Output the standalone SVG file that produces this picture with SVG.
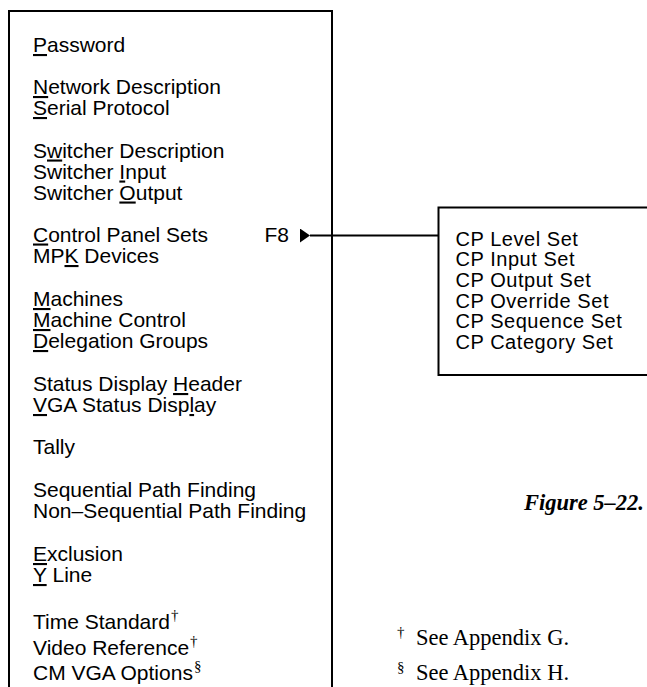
<svg xmlns="http://www.w3.org/2000/svg" width="647" height="687" viewBox="0 0 647 687">
<style>
.box{fill:none;stroke:#000;stroke-width:2}
.t{font-family:"Liberation Sans",Arial,sans-serif;font-size:21px;fill:#000}
.c{font-family:"Liberation Sans",Arial,sans-serif;font-size:20px;letter-spacing:0.55px;fill:#000}
.u{text-decoration:underline}
.sup{font-family:"Liberation Serif","Times New Roman",serif;font-size:15px}
.cap{font-family:"Liberation Serif","Times New Roman",serif;font-size:22.5px;font-weight:bold;font-style:italic;fill:#000}
.fn{font-family:"Liberation Serif","Times New Roman",serif;font-size:22.5px;fill:#000}
.fs{font-family:"Liberation Serif","Times New Roman",serif;font-size:15px;fill:#000}
.conn{stroke:#000;stroke-width:2;fill:none}
</style>
<defs>
<marker id="tri" markerUnits="userSpaceOnUse" markerWidth="10" markerHeight="14" refX="10" refY="7" orient="auto" viewBox="0 0 10 14">
<path d="M0,0 L10,7 L0,14 Z" fill="#000"/>
</marker>
</defs>
<rect width="647" height="687" fill="#fff"/>
<g id="main-menu">
<path class="box" d="M9,700 V11 H332 V700"/>
<text class="t" x="33" y="52"><tspan class="u">P</tspan>assword</text>
<text class="t" x="33" y="94"><tspan class="u">N</tspan>etwork Description</text>
<text class="t" x="33" y="115"><tspan class="u">S</tspan>erial Protocol</text>
<text class="t" x="33" y="157.5">S<tspan class="u">w</tspan>itcher Description</text>
<text class="t" x="33" y="178.5">Switcher <tspan class="u">I</tspan>nput</text>
<text class="t" x="33" y="199.5">Switcher <tspan class="u">O</tspan>utput</text>
<text class="t" x="33" y="241.5"><tspan class="u">C</tspan>ontrol Panel Sets</text>
<text class="t" x="289" y="241.5" text-anchor="end">F8</text>
<text class="t" x="33" y="263">MP<tspan class="u">K</tspan> Devices</text>
<text class="t" x="33" y="306"><tspan class="u">M</tspan>achines</text>
<text class="t" x="33" y="327"><tspan class="u">M</tspan>achine Control</text>
<text class="t" x="33" y="348"><tspan class="u">D</tspan>elegation Groups</text>
<text class="t" x="33" y="391">Status Display <tspan class="u">H</tspan>eader</text>
<text class="t" x="33" y="412"><tspan class="u">V</tspan>GA Status Disp<tspan class="u">l</tspan>ay</text>
<text class="t" x="33" y="454">Tally</text>
<text class="t" x="33" y="497">Sequential Path Findin<tspan class="u">g</tspan></text>
<text class="t" x="33" y="518">Non–Sequential Path Finding</text>
<text class="t" x="33" y="561"><tspan class="u">E</tspan>xclusion</text>
<text class="t" x="33" y="582"><tspan class="u">Y</tspan> Line</text>
<text class="t" x="33" y="629">Time Standard<tspan class="sup" dx="1" dy="-9">†</tspan></text>
<text class="t" x="33" y="654.5">Video Reference<tspan class="sup" dx="1" dy="-9">†</tspan></text>
<text class="t" x="33" y="680">CM VGA Options<tspan class="sup" dx="1" dy="-9">§</tspan></text>
</g>
<g id="cp-submenu">
<path class="box" d="M660,207.5 H438.5 V375 H660"/>
<text class="c" x="455.5" y="245.5">CP Level Set</text>
<text class="c" x="455.5" y="266.2">CP Input Set</text>
<text class="c" x="455.5" y="286.9">CP Output Set</text>
<text class="c" x="455.5" y="307.6">CP Override Set</text>
<text class="c" x="455.5" y="328.3">CP Sequence Set</text>
<text class="c" x="455.5" y="349">CP Category Set</text>
</g>
<g id="connectors">
<line class="conn" x1="310" y1="235.5" x2="438.5" y2="235.5" marker-start="url(#tri)"/>
</g>
<g id="caption">
<text class="cap" x="644" y="510" text-anchor="end">Figure 5–22.</text>
</g>
<g id="footnotes">
<text class="fs" x="397" y="637">†</text>
<text class="fn" x="416" y="645">See Appendix G.</text>
<text class="fs" x="397" y="672">§</text>
<text class="fn" x="416" y="680">See Appendix H.</text>
</g>
</svg>
